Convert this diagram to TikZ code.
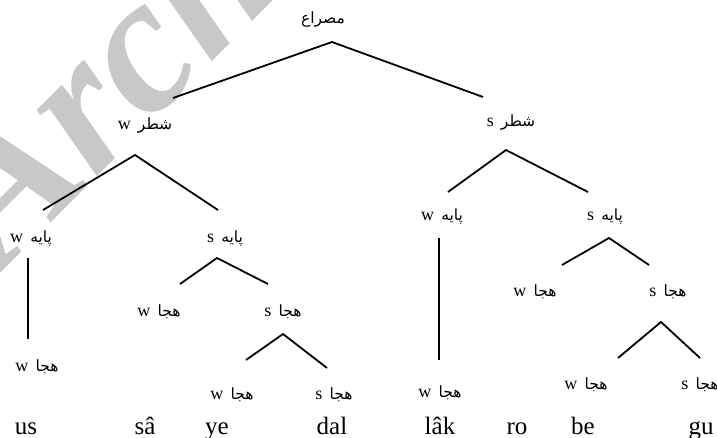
\documentclass[tikz,border=0pt]{standalone}
\usepackage{fontspec}
\setmainfont{Liberation Serif}
\newfontfamily\fafont[Script=Arabic]{DejaVu Sans}
\TeXXeTstate=1
\tikzstyle{unit}=[inner sep=0pt, font=\fontsize{18}{18}\selectfont]
\tikzstyle{syll}=[inner sep=0pt, anchor=base, font=\fontsize{25}{25}\selectfont]
\definecolor{watermark}{RGB}{200,200,200}
\newcommand{\fa}[1]{{\fafont\fontsize{15.5}{15.5}\selectfont\beginR #1\endR}}
\newcommand{\lab}[2]{#1\hspace{0.4em}\fa{#2}}

\begin{document}
\begin{tikzpicture}[x=1pt,y=-1pt,line width=1.8pt]
            \useasboundingbox (0,0) rectangle (717,437);
            \clip (0,0) rectangle (717,437);
            \node[rotate=45, anchor=base west, text=watermark,
                font=\fontsize{195}{195}\selectfont\bfseries\itshape] (mark) at (0,274) {Archive};

            % top level
            \node[unit] (misra) at (323,20) {\fa{مصراع}};
            \node[unit] (shatrw) at (145,125) {\lab{w}{شطر}};
            \node[unit] (shatrs) at (511,122) {\lab{s}{شطر}};
            \coordinate (m0) at (332,42);
            \coordinate (m1) at (173,98);
            \coordinate (m2) at (483,97);
            \draw (m1) -- (m0) -- (m2);

            % left half
            \node[unit] (payew1) at (31,238) {\lab{w}{پایه}};
            \node[unit] (payes1) at (225,238) {\lab{s}{پایه}};
            \coordinate (a0) at (135,155);
            \coordinate (a1) at (43,210);
            \coordinate (a2) at (218,210);
            \draw (a1) -- (a0) -- (a2);
            \node[unit] (hejaw1) at (37,367) {\lab{w}{هجا}};
            \coordinate (b1) at (28,258);
            \coordinate (b2) at (28,339);
            \draw (b1) -- (b2);
            \node[unit] (hejaw2) at (159,312) {\lab{w}{هجا}};
            \node[unit] (hejas2) at (283,312) {\lab{s}{هجا}};
            \coordinate (c0) at (217,258);
            \coordinate (c1) at (180,284);
            \coordinate (c2) at (268,284);
            \draw (c1) -- (c0) -- (c2);
            \node[unit] (hejaw3) at (232,395) {\lab{w}{هجا}};
            \node[unit] (hejas3) at (334,395) {\lab{s}{هجا}};
            \coordinate (d0) at (283,334);
            \coordinate (d1) at (246,360);
            \coordinate (d2) at (327,368);
            \draw (d1) -- (d0) -- (d2);

            % right half
            \node[unit] (payew2) at (442,216) {\lab{w}{پایه}};
            \node[unit] (payes2) at (605,216) {\lab{s}{پایه}};
            \coordinate (e0) at (506,150);
            \coordinate (e1) at (448,192);
            \coordinate (e2) at (588,192);
            \draw (e1) -- (e0) -- (e2);
            \node[unit] (hejaw4) at (440,393) {\lab{w}{هجا}};
            \coordinate (f1) at (439,238);
            \coordinate (f2) at (439,360);
            \draw (f1) -- (f2);
            \node[unit] (hejaw5) at (535,292) {\lab{w}{هجا}};
            \node[unit] (hejas5) at (668,292) {\lab{s}{هجا}};
            \coordinate (g0) at (609,238);
            \coordinate (g1) at (562,265);
            \coordinate (g2) at (649,265);
            \draw (g1) -- (g0) -- (g2);
            \node[unit] (hejaw6) at (586,385) {\lab{w}{هجا}};
            \node[unit] (hejas6) at (700,385) {\lab{s}{هجا}};
            \coordinate (h0) at (661,322);
            \coordinate (h1) at (618,358);
            \coordinate (h2) at (700,358);
            \draw (h1) -- (h0) -- (h2);

            % syllables
            \node[syll] (us) at (26,434) {us};
            \node[syll] (sa) at (145,434) {sâ};
            \node[syll] (ye) at (217,434) {ye};
            \node[syll] (dal) at (332,434) {dal};
            \node[syll] (lak) at (440,434) {lâk};
            \node[syll] (ro) at (517,434) {ro};
            \node[syll] (be) at (583,434) {be};
            \node[syll] (gu) at (701,434) {gu};
        \end{tikzpicture}
\end{document}
